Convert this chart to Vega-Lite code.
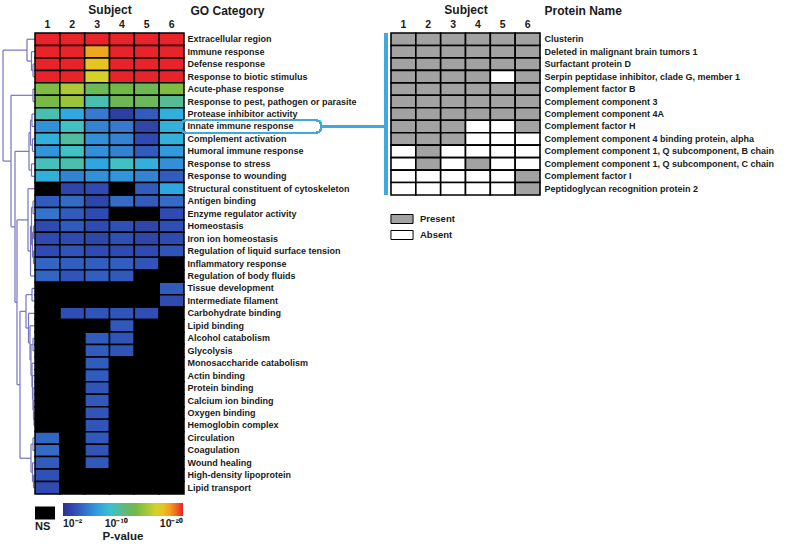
{
  "$schema": "https://vega.github.io/schema/vega-lite/v6.json",
  "background": "white",
  "padding": {"left": 0, "top": 3, "right": 5, "bottom": 0},
  "config": {
    "font": "Liberation Sans",
    "view": {"stroke": null},
    "axis": {"labelFont": "Liberation Sans", "titleFont": "Liberation Sans", "labelColor": "#1a1a1a", "titleColor": "#1a1a1a"},
    "legend": {"labelFont": "Liberation Sans", "titleFont": "Liberation Sans"}
  },
  "datasets": {
    "tree": [
      {"h": 2, "p1": 3, "h1": 0, "p2": 4, "h2": 0},
      {"h": 3.5, "p1": 2, "h1": 0, "p2": 3.5, "h2": 2},
      {"h": 8, "p1": 1, "h1": 0, "p2": 2.75, "h2": 3.5},
      {"h": 2, "p1": 5, "h1": 0, "p2": 6, "h2": 0},
      {"h": 3, "p1": 7, "h1": 0, "p2": 8, "h2": 0},
      {"h": 2.5, "p1": 9, "h1": 0, "p2": 10, "h2": 0},
      {"h": 4.5, "p1": 7.5, "h1": 3, "p2": 9.5, "h2": 2.5},
      {"h": 3.5, "p1": 11, "h1": 0, "p2": 12, "h2": 0},
      {"h": 6, "p1": 8.5, "h1": 4.5, "p2": 11.5, "h2": 3.5},
      {"h": 2, "p1": 14, "h1": 0, "p2": 15, "h2": 0},
      {"h": 1.5, "p1": 16, "h1": 0, "p2": 17, "h2": 0},
      {"h": 1.5, "p1": 18, "h1": 0, "p2": 19, "h2": 0},
      {"h": 2.5, "p1": 16.5, "h1": 1.5, "p2": 18.5, "h2": 1.5},
      {"h": 3.5, "p1": 14.5, "h1": 2, "p2": 17.5, "h2": 2.5},
      {"h": 4.5, "p1": 16, "h1": 3.5, "p2": 20, "h2": 0},
      {"h": 7, "p1": 13, "h1": 0, "p2": 18, "h2": 4.5},
      {"h": 3, "p1": 21, "h1": 0, "p2": 22, "h2": 0},
      {"h": 2, "p1": 25, "h1": 0, "p2": 26, "h2": 0},
      {"h": 1, "p1": 31, "h1": 0, "p2": 32, "h2": 0},
      {"h": 1.5, "p1": 30, "h1": 0, "p2": 31.5, "h2": 1},
      {"h": 2, "p1": 29, "h1": 0, "p2": 30.75, "h2": 1.5},
      {"h": 2.5, "p1": 28, "h1": 0, "p2": 29.88, "h2": 2},
      {"h": 3, "p1": 27, "h1": 0, "p2": 28.94, "h2": 2.5},
      {"h": 4, "p1": 25.5, "h1": 2, "p2": 27.97, "h2": 3},
      {"h": 5, "p1": 24, "h1": 0, "p2": 26.74, "h2": 4},
      {"h": 6.5, "p1": 23, "h1": 0, "p2": 25.37, "h2": 5},
      {"h": 9, "p1": 21.5, "h1": 3, "p2": 24.18, "h2": 6.5},
      {"h": 2, "p1": 33, "h1": 0, "p2": 34, "h2": 0},
      {"h": 1.5, "p1": 36, "h1": 0, "p2": 37, "h2": 0},
      {"h": 2.5, "p1": 35, "h1": 0, "p2": 36.5, "h2": 1.5},
      {"h": 4, "p1": 33.5, "h1": 2, "p2": 35.75, "h2": 2.5},
      {"h": 15, "p1": 22.84, "h1": 9, "p2": 34.63, "h2": 4},
      {"h": 18, "p1": 15.5, "h1": 7, "p2": 28.73, "h2": 15},
      {"h": 20, "p1": 10, "h1": 6, "p2": 22.12, "h2": 18},
      {"h": 24, "p1": 5.5, "h1": 2, "p2": 16.06, "h2": 20},
      {"h": 32, "p1": 1.875, "h1": 8, "p2": 10.78, "h2": 24}
    ],
    "go": [
      {"go": "Extracellular region", "1": 20, "2": 20, "3": 20, "4": 20, "5": 20, "6": 20},
      {"go": "Immune response", "1": 20, "2": 20, "3": 17.8, "4": 20, "5": 20, "6": 20},
      {"go": "Defense response", "1": 20, "2": 20, "3": 16.9, "4": 20, "5": 20, "6": 20},
      {"go": "Response to biotic stimulus", "1": 20, "2": 20, "3": 16, "4": 20, "5": 20, "6": 20},
      {"go": "Acute-phase response", "1": 13.2, "2": 14.8, "3": 12.3, "4": 12.8, "5": 12.4, "6": 13.2},
      {"go": "Response to pest, pathogen or parasite", "1": 13, "2": 14.2, "3": 9.9, "4": 12.4, "5": 12.2, "6": 10.6},
      {"go": "Protease inhibitor activity", "1": 9.9, "2": 7.6, "3": 5.6, "4": 2.9, "5": 4.3, "6": 8},
      {"go": "Innate immune response", "1": 6.5, "2": 9.4, "3": 6, "4": 5.6, "5": 3.3, "6": 8.1},
      {"go": "Complement activation", "1": 8, "2": 10.3, "3": 6.5, "4": 6, "5": 3.6, "6": 8.1},
      {"go": "Humoral immune response", "1": 6.7, "2": 9.4, "3": 6.5, "4": 6, "5": 4.3, "6": 6.9},
      {"go": "Response to stress", "1": 9.7, "2": 10, "3": 7.4, "4": 9.4, "5": 8, "6": 6.5},
      {"go": "Response to wounding", "1": 8, "2": 6, "3": 6.5, "4": 6.7, "5": 6, "6": 4.3},
      {"go": "Structural constituent of cytoskeleton", "1": null, "2": 3.3, "3": 3.6, "4": null, "5": 4.3, "6": 7.4},
      {"go": "Antigen binding", "1": 4.3, "2": 5, "3": 3.3, "4": 5, "5": 4.3, "6": 5},
      {"go": "Enzyme regulator activity", "1": 5.4, "2": 4.3, "3": 3.6, "4": null, "5": null, "6": 3.6},
      {"go": "Homeostasis", "1": 3.6, "2": 4.3, "3": 3.6, "4": 3.8, "5": 3.3, "6": 3.8},
      {"go": "Iron ion homeostasis", "1": 3.6, "2": 3.6, "3": 3.3, "4": 3.8, "5": 3.3, "6": 3.6},
      {"go": "Regulation of liquid surface tension", "1": 3.6, "2": 4, "3": 3.6, "4": 3.6, "5": 3.6, "6": 4},
      {"go": "Inflammatory response", "1": 4.8, "2": 4.5, "3": 4.5, "4": 4.5, "5": 4, "6": null},
      {"go": "Regulation of body fluids", "1": 4.8, "2": 4, "3": 4.5, "4": 4.2, "5": null, "6": null},
      {"go": "Tissue development", "1": null, "2": null, "3": null, "4": null, "5": null, "6": 4.3},
      {"go": "Intermediate filament", "1": null, "2": null, "3": null, "4": null, "5": null, "6": 3.6},
      {"go": "Carbohydrate binding", "1": null, "2": 3.8, "3": 4, "4": 4, "5": 3.8, "6": null},
      {"go": "Lipid binding", "1": null, "2": null, "3": null, "4": 4.2, "5": null, "6": null},
      {"go": "Alcohol catabolism", "1": null, "2": null, "3": 4.3, "4": 4, "5": null, "6": null},
      {"go": "Glycolysis", "1": null, "2": null, "3": 4.3, "4": 4, "5": null, "6": null},
      {"go": "Monosaccharide catabolism", "1": null, "2": null, "3": 4.3, "4": null, "5": null, "6": null},
      {"go": "Actin binding", "1": null, "2": null, "3": 4.3, "4": null, "5": null, "6": null},
      {"go": "Protein binding", "1": null, "2": null, "3": 4, "4": null, "5": null, "6": null},
      {"go": "Calcium ion binding", "1": null, "2": null, "3": 4.2, "4": null, "5": null, "6": null},
      {"go": "Oxygen binding", "1": null, "2": null, "3": 4, "4": null, "5": null, "6": null},
      {"go": "Hemoglobin complex", "1": null, "2": null, "3": 4, "4": null, "5": null, "6": null},
      {"go": "Circulation", "1": 4.8, "2": null, "3": 4.2, "4": null, "5": null, "6": null},
      {"go": "Coagulation", "1": 5, "2": null, "3": 4, "4": null, "5": null, "6": null},
      {"go": "Wound healing", "1": 4.3, "2": null, "3": 4.2, "4": null, "5": null, "6": null},
      {"go": "High-density lipoprotein", "1": 3.9, "2": null, "3": null, "4": null, "5": null, "6": null},
      {"go": "Lipid transport", "1": 3.6, "2": null, "3": null, "4": null, "5": null, "6": null}
    ],
    "prot": [
      {"protein": "Clusterin", "1": "Present", "2": "Present", "3": "Present", "4": "Present", "5": "Present", "6": "Present"},
      {"protein": "Deleted in malignant brain tumors 1", "1": "Present", "2": "Present", "3": "Present", "4": "Present", "5": "Present", "6": "Present"},
      {"protein": "Surfactant protein D", "1": "Present", "2": "Present", "3": "Present", "4": "Present", "5": "Present", "6": "Present"},
      {"protein": "Serpin peptidase inhibitor, clade G, member 1", "1": "Present", "2": "Present", "3": "Present", "4": "Present", "5": "Absent", "6": "Present"},
      {"protein": "Complement factor B", "1": "Present", "2": "Present", "3": "Present", "4": "Present", "5": "Present", "6": "Present"},
      {"protein": "Complement component 3", "1": "Present", "2": "Present", "3": "Present", "4": "Present", "5": "Present", "6": "Present"},
      {"protein": "Complement component 4A", "1": "Present", "2": "Present", "3": "Present", "4": "Present", "5": "Present", "6": "Present"},
      {"protein": "Complement factor H", "1": "Present", "2": "Present", "3": "Present", "4": "Absent", "5": "Absent", "6": "Present"},
      {"protein": "Complement component 4 binding protein, alpha", "1": "Present", "2": "Present", "3": "Present", "4": "Absent", "5": "Absent", "6": "Absent"},
      {"protein": "Complement component 1, Q subcomponent, B chain", "1": "Absent", "2": "Present", "3": "Absent", "4": "Absent", "5": "Absent", "6": "Absent"},
      {"protein": "Complement component 1, Q subcomponent, C chain", "1": "Absent", "2": "Present", "3": "Absent", "4": "Present", "5": "Absent", "6": "Absent"},
      {"protein": "Complement factor I", "1": "Absent", "2": "Absent", "3": "Absent", "4": "Absent", "5": "Absent", "6": "Present"},
      {"protein": "Peptidoglycan recognition protein 2", "1": "Absent", "2": "Absent", "3": "Absent", "4": "Absent", "5": "Absent", "6": "Present"}
    ]
  },
  "bounds": "flush",
  "spacing": 391,
  "resolve": {"scale": {"color": "independent", "fill": "independent"}, "legend": {"color": "independent", "fill": "independent"}},
  "hconcat": [
    {
      "bounds": "flush",
      "spacing": 0,
      "resolve": {"scale": {"color": "independent", "fill": "independent"}, "legend": {"color": "independent", "fill": "independent"}},
      "hconcat": [
        {
          "width": 35,
          "height": 461,
          "data": {"name": "tree"},
          "layer": [
            {
              "mark": {"type": "rule", "color": "#7474c2", "strokeWidth": 1.2},
              "encoding": {
                "x": {"field": "h", "type": "quantitative", "scale": {"domain": [0, 35], "reverse": true, "nice": false, "zero": false}, "axis": null},
                "y": {"field": "p1", "type": "quantitative", "scale": {"domain": [0.5, 37.5], "reverse": true, "nice": false, "zero": false}, "axis": null},
                "y2": {"field": "p2"}
              }
            },
            {
              "mark": {"type": "rule", "color": "#7474c2", "strokeWidth": 1.2},
              "encoding": {
                "x": {"field": "h1", "type": "quantitative"},
                "x2": {"field": "h"},
                "y": {"field": "p1", "type": "quantitative"}
              }
            },
            {
              "mark": {"type": "rule", "color": "#7474c2", "strokeWidth": 1.2},
              "encoding": {
                "x": {"field": "h2", "type": "quantitative"},
                "x2": {"field": "h"},
                "y": {"field": "p2", "type": "quantitative"}
              }
            }
          ]
        },
        {
          "width": 149,
          "height": 461,
          "data": {"name": "go"},
          "transform": [{"fold": ["1", "2", "3", "4", "5", "6"], "as": ["subject", "logp"]}],
          "layer": [
            {
              "transform": [{"filter": "datum.logp != null"}],
              "mark": {"type": "rect", "stroke": "#000000", "strokeWidth": 1.5},
              "encoding": {
                "x": {"field": "subject", "type": "nominal", "scale": {"domain": ["1", "2", "3", "4", "5", "6"]},
                  "axis": {"orient": "top", "title": "Subject", "labelAngle": 0, "ticks": false, "domain": false, "labelFontWeight": "bold", "labelFontSize": 10.5, "labelPadding": 4, "titleFontSize": 12, "titleFontWeight": "bold", "titlePadding": 3}},
                "y": {"field": "go", "type": "nominal",
                  "scale": {"domain": ["Extracellular region", "Immune response", "Defense response", "Response to biotic stimulus", "Acute-phase response", "Response to pest, pathogen or parasite", "Protease inhibitor activity", "Innate immune response", "Complement activation", "Humoral immune response", "Response to stress", "Response to wounding", "Structural constituent of cytoskeleton", "Antigen binding", "Enzyme regulator activity", "Homeostasis", "Iron ion homeostasis", "Regulation of liquid surface tension", "Inflammatory response", "Regulation of body fluids", "Tissue development", "Intermediate filament", "Carbohydrate binding", "Lipid binding", "Alcohol catabolism", "Glycolysis", "Monosaccharide catabolism", "Actin binding", "Protein binding", "Calcium ion binding", "Oxygen binding", "Hemoglobin complex", "Circulation", "Coagulation", "Wound healing", "High-density lipoprotein", "Lipid transport"]},
                  "axis": {"orient": "right", "title": "GO Category", "titleAngle": 0, "titleAlign": "left", "titleBaseline": "alphabetic", "titleX": 6, "titleY": -19, "titleFontSize": 12, "titleFontWeight": "bold", "ticks": false, "domain": false, "labelPadding": 3, "labelFontSize": 9, "labelFontWeight": "bold", "labelLimit": 400}},
                "color": {"field": "logp", "type": "quantitative",
                  "scale": {"domain": [2, 20], "range": ["#2c2f8e", "#2f4fb5", "#3679cf", "#2ea6e2", "#3ec2cc", "#5cba86", "#72b846", "#a6c83a", "#e2d522", "#f39a1e", "#e8242a"], "interpolate": "rgb"},
                  "legend": {"orient": "none", "legendX": 28, "legendY": 470, "direction": "horizontal", "gradientLength": 120, "gradientThickness": 13, "gradientStrokeWidth": 0, "values": [2, 10, 20],
                    "labelExpr": "datum.value == 2 ? '10⁻²' : datum.value == 10 ? '10⁻¹⁰' : '10⁻²⁰'",
                    "labelFontSize": 10.5, "labelFontWeight": "bold", "labelColor": "#1a1a1a", "labelOffset": 3,
                    "title": "P-value", "titleOrient": "bottom", "titleAnchor": "middle", "titleFontSize": 11.5, "titleFontWeight": "bold", "titleColor": "#1a1a1a", "titlePadding": 1}}
              }
            },
            {
              "transform": [{"filter": "datum.logp == null"}],
              "mark": {"type": "rect", "stroke": "#000000", "strokeWidth": 1.5},
              "encoding": {
                "x": {"field": "subject", "type": "nominal"},
                "y": {"field": "go", "type": "nominal"},
                "fill": {"datum": "NS", "type": "nominal", "scale": {"range": ["#000000"]},
                  "legend": {"orient": "none", "legendX": 0, "legendY": 470, "title": "NS", "titleOrient": "bottom", "titleAnchor": "start", "titleFontSize": 11, "titleFontWeight": "bold", "titleColor": "#1a1a1a", "titlePadding": 1, "labelExpr": "''", "symbolType": "M-1,-0.65H1V0.65H-1Z", "symbolSize": 400, "symbolStrokeWidth": 0}}
              }
            },
            {
              "mark": {"type": "rect", "cornerRadius": 5, "fillOpacity": 0, "stroke": "#3fa9dd", "strokeWidth": 1.6},
              "encoding": {
                "x": {"datum": "6", "bandPosition": 0.88},
                "x2": {"datum": "6", "bandPosition": 6.52},
                "y": {"datum": "Innate immune response"}
              }
            },
            {
              "mark": {"type": "rule", "stroke": "#3fa9dd", "strokeWidth": 1.5},
              "encoding": {
                "x": {"datum": "6", "bandPosition": 6.52},
                "x2": {"datum": "6", "bandPosition": 9.13},
                "y": {"datum": "Innate immune response", "bandPosition": 0.5}
              }
            },
            {
              "mark": {"type": "rule", "stroke": "#3fa9dd", "strokeWidth": 2.5},
              "encoding": {
                "x": {"datum": "6", "bandPosition": 9.13},
                "y": {"datum": "Extracellular region", "bandPosition": 0},
                "y2": {"datum": "Structural constituent of cytoskeleton", "bandPosition": 1}
              }
            }
          ]
        }
      ]
    },
    {
      "width": 149,
      "height": 162,
      "data": {"name": "prot"},
      "transform": [{"fold": ["1", "2", "3", "4", "5", "6"], "as": ["subject", "status"]}],
      "mark": {"type": "rect", "stroke": "#000000", "strokeWidth": 1.6},
      "encoding": {
        "x": {"field": "subject", "type": "nominal", "scale": {"domain": ["1", "2", "3", "4", "5", "6"]},
          "axis": {"orient": "top", "title": "Subject", "labelAngle": 0, "ticks": false, "domain": false, "labelFontWeight": "bold", "labelFontSize": 10.5, "labelPadding": 4, "titleFontSize": 12, "titleFontWeight": "bold", "titlePadding": 3}},
        "y": {"field": "protein", "type": "nominal",
          "scale": {"domain": ["Clusterin", "Deleted in malignant brain tumors 1", "Surfactant protein D", "Serpin peptidase inhibitor, clade G, member 1", "Complement factor B", "Complement component 3", "Complement component 4A", "Complement factor H", "Complement component 4 binding protein, alpha", "Complement component 1, Q subcomponent, B chain", "Complement component 1, Q subcomponent, C chain", "Complement factor I", "Peptidoglycan recognition protein 2"]},
          "axis": {"orient": "right", "title": "Protein Name", "titleAngle": 0, "titleAlign": "left", "titleBaseline": "alphabetic", "titleX": 4, "titleY": -19, "titleFontSize": 12, "titleFontWeight": "bold", "ticks": false, "domain": false, "labelPadding": 4, "labelFontSize": 9, "labelFontWeight": "bold", "labelLimit": 400}},
        "color": {"field": "status", "type": "nominal",
          "scale": {"domain": ["Present", "Absent"], "range": ["#a2a2a2", "#ffffff"]},
          "legend": {"orient": "none", "legendX": 2, "legendY": 177, "title": null, "symbolType": "M-1.3,-0.53H1.3V0.53H-1.3Z", "symbolSize": 289, "symbolStrokeColor": "#000000", "symbolStrokeWidth": 1, "symbolOpacity": 1, "labelFontSize": 9.5, "labelFontWeight": "bold", "labelColor": "#1a1a1a", "labelOffset": 9, "rowPadding": -1}}
      }
    }
  ]
}
